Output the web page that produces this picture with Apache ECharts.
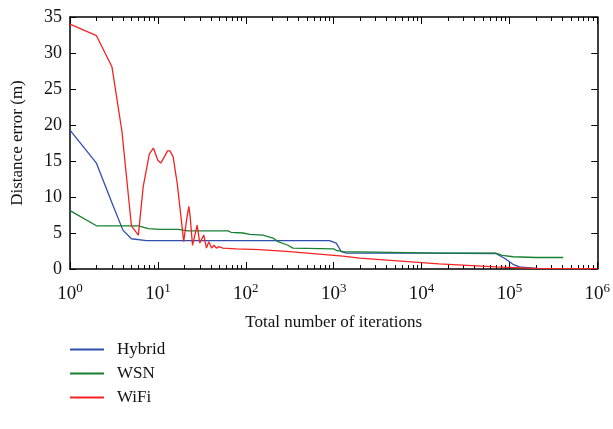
<!DOCTYPE html>
<html>
<head>
<meta charset="utf-8">
<script src="https://cdn.jsdelivr.net/npm/echarts@6/dist/echarts.min.js"></script>
<style>
  html, body { margin: 0; padding: 0; background: #fff; }
  #chart { width: 613px; height: 429px; }
</style>
</head>
<body>
<div id="chart"></div>
<script>
// values
const seriesNames = ["Hybrid", "WSN", "WiFi"];

const hybridX = [1, 2, 3, 4, 5, 7.4, 100, 900, 1070, 1225, 1400, 10000, 70000, 88000, 110000, 130000, 200000, 1000000];
const hybridY = [19.3, 14.7, 9.2, 5.4, 4.2, 3.95, 3.95, 3.95, 3.6, 2.4, 2.2, 2.2, 2.15, 1.5, 0.65, 0.3, 0.1, 0.05];

const wsnX = [1, 2, 6, 7.8, 10.5, 17, 22, 63, 68, 93, 111, 157, 204, 233, 302, 345, 1000, 1070, 1290, 15800, 70000, 83000, 110000, 200000, 410000];
const wsnY = [8.1, 6.0, 6.0, 5.6, 5.5, 5.5, 5.3, 5.3, 5.1, 5.0, 4.8, 4.7, 4.3, 3.8, 3.3, 2.9, 2.8, 2.6, 2.4, 2.2, 2.2, 1.9, 1.7, 1.6, 1.6];

const wifiX = [1, 2, 3, 3.9, 5, 6, 6.8, 8, 8.9, 10, 10.8, 12.9, 13.7, 14.9, 16.6, 19.7, 21.2, 22.5, 23.3, 24.8, 28, 30, 33.3, 35.7, 38, 40.8, 43.5, 46.4, 49.5, 55, 78, 144, 316, 1270, 1975, 15800, 70500, 200000, 1000000];
const wifiY = [34.0, 32.4, 28.1, 19.1, 6.0, 4.7, 11.4, 16.0, 16.8, 15.1, 14.7, 16.4, 16.4, 15.6, 11.9, 3.8, 6.8, 8.7, 7.3, 3.3, 6.1, 3.6, 4.7, 2.9, 3.8, 2.9, 3.3, 2.9, 3.1, 2.9, 2.8, 2.7, 2.4, 1.8, 1.5, 0.7, 0.3, 0.1, 0.05];

const decades = [0, 1, 2, 3, 4, 5, 6];
const minorMultipliers = [2, 3, 4, 5, 6, 7, 8, 9];

const colors = ["#2f4fae", "#178030", "#f52222"];
const font = "Liberation Serif";

const zip = (xs, ys) => xs.map((x, i) => [x, ys[i]]);

// decade ticks and the 2..9 minor ticks of each decade
const majorTicks = decades.map(d => Math.pow(10, d));
const minorTicks = [];
decades.slice(0, -1).forEach(d => {
  minorMultipliers.forEach(m => minorTicks.push(m * Math.pow(10, d)));
});

const chart = echarts.init(document.getElementById("chart"));

const frame = () => ({ show: true, onZero: false, lineStyle: { color: "#000", width: 1.5 } });
const ticks = (length, values) => ({
  show: true,
  inside: true,
  length: length,
  lineStyle: { color: "#000", width: 1 },
  customValues: values
});

// extra log axes only carry tick marks (top side, and minor ticks)
const tickAxis = (position, values, length, withLine) => ({
  type: "log",
  min: 1,
  max: 1000000,
  position: position,
  axisLine: withLine ? frame() : { show: false, onZero: false },
  axisTick: ticks(length, values),
  axisLabel: { show: false },
  splitLine: { show: false }
});

const option = {
  backgroundColor: "#fff",
  animation: false,
  grid: { left: 70, right: 15, top: 17, bottom: 160 },
  xAxis: [
    {
      type: "log",
      min: 1,
      max: 1000000,
      position: "bottom",
      name: "Total number of iterations",
      nameLocation: "middle",
      nameGap: 45,
      nameTextStyle: { fontFamily: font, fontSize: 17, color: "#111" },
      axisLine: frame(),
      axisTick: ticks(7, majorTicks),
      axisLabel: {
        margin: 13,
        customValues: majorTicks,
        formatter: (v) => "{b|10}{s|" + Math.round(Math.log10(v)) + "}",
        rich: {
          b: { fontFamily: font, fontSize: 19, color: "#111" },
          s: { fontFamily: font, fontSize: 13, color: "#111", padding: [0, 0, 11, 0] }
        }
      },
      splitLine: { show: false }
    },
    tickAxis("top", majorTicks, 7, true),
    tickAxis("bottom", minorTicks, 4, false),
    tickAxis("top", minorTicks, 4, false)
  ],
  yAxis: [
    {
      type: "value",
      min: 0,
      max: 35,
      interval: 5,
      name: "Distance error (m)",
      nameLocation: "middle",
      nameGap: 44,
      nameTextStyle: { fontFamily: font, fontSize: 17, color: "#111" },
      axisLine: frame(),
      axisTick: { show: true, inside: true, length: 6, lineStyle: { color: "#000", width: 1 } },
      axisLabel: { fontFamily: font, fontSize: 18, color: "#111", margin: 8 },
      splitLine: { show: false }
    },
    {
      type: "value",
      min: 0,
      max: 35,
      interval: 5,
      position: "right",
      axisLine: frame(),
      axisTick: { show: true, inside: true, length: 6, lineStyle: { color: "#000", width: 1 } },
      axisLabel: { show: false },
      splitLine: { show: false }
    }
  ],
  legend: {
    orient: "vertical",
    left: 65,
    top: 336,
    icon: "rect",
    itemWidth: 34,
    itemHeight: 2,
    itemGap: 7,
    textStyle: { fontFamily: font, fontSize: 17, lineHeight: 16, color: "#111", padding: [0, 0, 0, 8] },
    data: seriesNames
  },
  series: [
    [hybridX, hybridY],
    [wsnX, wsnY],
    [wifiX, wifiY]
  ].map(([xs, ys], i) => ({
    name: seriesNames[i],
    type: "line",
    xAxisIndex: 0,
    yAxisIndex: 0,
    symbol: "none",
    lineStyle: { color: colors[i], width: 1.3 },
    itemStyle: { color: colors[i] },
    data: zip(xs, ys)
  }))
};

chart.setOption(option);
</script>
</body>
</html>
